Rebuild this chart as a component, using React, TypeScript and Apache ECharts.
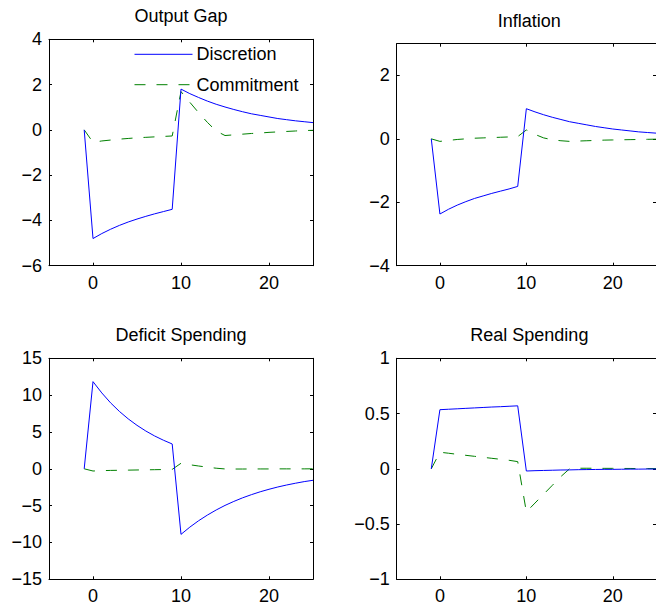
import React, { useEffect, useRef } from "react";
import * as echarts from "echarts";

const periods = [-1, 0, 1, 2, 3, 4, 5, 6, 7, 8, 9, 10, 11, 12, 13, 14, 15, 16, 17, 18, 19, 20, 21, 22, 23, 24, 25];

const panelTitles = ["Output Gap", "Inflation", "Deficit Spending", "Real Spending"];
const seriesNames = ["Discretion", "Commitment"];

const outputGapDiscretion = [0, -4.80, -4.58, -4.39, -4.22, -4.07, -3.94, -3.82, -3.71, -3.61, -3.51,
  1.80, 1.60, 1.43, 1.27, 1.13, 1.01, 0.90, 0.80, 0.71, 0.64, 0.57, 0.50, 0.45, 0.40, 0.36, 0.32];
const outputGapCommitment = [0, -0.55, -0.49, -0.45, -0.41, -0.38, -0.35, -0.33, -0.31, -0.29, -0.27,
  1.69, 1.22, 0.76, 0.33, -0.05, -0.25, -0.22, -0.19, -0.16, -0.14, -0.11, -0.09, -0.07, -0.05, -0.03, -0.02];

const inflationDiscretion = [0, -2.37, -2.22, -2.09, -1.98, -1.88, -1.80, -1.72, -1.65, -1.58, -1.50,
  0.95, 0.85, 0.76, 0.68, 0.61, 0.54, 0.49, 0.44, 0.39, 0.35, 0.31, 0.28, 0.25, 0.22, 0.20, 0.18];
const inflationCommitment = [0, -0.08, -0.05, -0.02, 0.0, 0.02, 0.03, 0.04, 0.05, 0.06, 0.07,
  0.28, 0.14, 0.03, -0.03, -0.06, -0.08, -0.07, -0.06, -0.05, -0.04, -0.035, -0.03, -0.025, -0.02, -0.015, -0.01];

const deficitDiscretion = [0, 11.83, 10.30, 8.95, 7.79, 6.78, 5.90, 5.13, 4.46, 3.88, 3.37,
  -8.90, -7.92, -7.05, -6.28, -5.59, -4.97, -4.43, -3.94, -3.51, -3.12, -2.78, -2.47, -2.20, -1.96, -1.74, -1.56];
const deficitCommitment = [0, -0.30, -0.25, -0.22, -0.20, -0.18, -0.16, -0.14, -0.12, -0.10, -0.08,
  0.75, 0.55, 0.38, 0.22, 0.08, -0.02, -0.03, -0.03, -0.02, -0.02, -0.02, -0.01, -0.01, -0.01, -0.01, 0.0];

const realDiscretion = [0, 0.535, 0.539, 0.543, 0.547, 0.551, 0.555, 0.559, 0.562, 0.566, 0.570,
  -0.020, -0.017, -0.015, -0.013, -0.011, -0.010, -0.008, -0.007, -0.006, -0.005, -0.005, -0.004, -0.003, -0.003, -0.002, -0.002];
const realCommitment = [0, 0.150, 0.141, 0.131, 0.122, 0.113, 0.104, 0.095, 0.086, 0.077, 0.065,
  -0.39, -0.31, -0.23, -0.15, -0.07, 0.0, 0.005, 0.005, 0.005, 0.004, 0.004, 0.003, 0.003, 0.002, 0.002, 0.002];

const xTicks = [0, 10, 20];
const yRanges = [
  { min: -6, max: 4, ticks: [-6, -4, -2, 0, 2, 4] },
  { min: -4, max: 3, ticks: [-4, -2, 0, 2] },
  { min: -15, max: 15, ticks: [-15, -10, -5, 0, 5, 10, 15] },
  { min: -1, max: 1, ticks: [-1, -0.5, 0, 0.5, 1] },
];

const panelData = [
  [outputGapDiscretion, outputGapCommitment],
  [inflationDiscretion, inflationCommitment],
  [deficitDiscretion, deficitCommitment],
  [realDiscretion, realCommitment],
];

const grids = [
  { left: 49, top: 39.3, width: 264, height: 226.4 },
  { left: 396.7, top: 43.7, width: 265.3, height: 222 },
  { left: 49, top: 358.3, width: 264, height: 221 },
  { left: 396.7, top: 358.3, width: 265.3, height: 221 },
];

const FONT = "'Liberation Sans', Arial, Helvetica, sans-serif";
const FS = 18;

const fmt = (v: number) => String(v).replace("-", "\u2212");

export default function App() {
  const ref = useRef<HTMLDivElement>(null);
  useEffect(() => {
    if (!ref.current) return;
    const chart = echarts.init(ref.current, undefined, { renderer: "svg" });
    const xAxis: any[] = [];
    const yAxis: any[] = [];
    const series: any[] = [];
    const graphic: any[] = [];
    grids.forEach((g, i) => {
      const base = { type: "value", gridIndex: i, min: -5, max: 25 };
      xAxis.push({
        ...base,
        position: "bottom",
        axisLine: { onZero: false, lineStyle: { color: "#000", width: 1 } },
        axisTick: { inside: true, length: 3, customValues: xTicks, lineStyle: { color: "#000" } },
        axisLabel: { customValues: xTicks, color: "#000", fontSize: FS, fontFamily: FONT, margin: 8, formatter: fmt },
        splitLine: { show: false },
      });
      xAxis.push({
        ...base,
        position: "top",
        axisLine: { onZero: false, lineStyle: { color: "#000", width: 1 } },
        axisTick: { inside: true, length: 3, customValues: xTicks, lineStyle: { color: "#000" } },
        axisLabel: { show: false },
        splitLine: { show: false },
      });
      const yr = yRanges[i];
      const yb = { type: "value", gridIndex: i, min: yr.min, max: yr.max };
      yAxis.push({
        ...yb,
        position: "left",
        axisLine: { show: true, onZero: false, lineStyle: { color: "#000", width: 1 } },
        axisTick: { show: true, inside: true, length: 3, customValues: yr.ticks, lineStyle: { color: "#000" } },
        axisLabel: { customValues: yr.ticks, color: "#000", fontSize: FS, fontFamily: FONT, margin: 7, formatter: fmt },
        splitLine: { show: false },
      });
      yAxis.push({
        ...yb,
        position: "right",
        axisLine: { show: true, onZero: false, lineStyle: { color: "#000", width: 1 } },
        axisTick: { show: true, inside: true, length: 3, customValues: yr.ticks, lineStyle: { color: "#000" } },
        axisLabel: { show: false },
        splitLine: { show: false },
      });
      const [disc, comm] = panelData[i];
      series.push({
        type: "line",
        name: seriesNames[0],
        xAxisIndex: i * 2,
        yAxisIndex: i * 2,
        data: periods.map((p, k) => [p, disc[k]]),
        symbol: "none",
        lineStyle: { color: "#0000ff", width: 1 },
        itemStyle: { color: "#0000ff" },
        z: 3,
      });
      series.push({
        type: "line",
        name: seriesNames[1],
        xAxisIndex: i * 2,
        yAxisIndex: i * 2,
        data: periods.map((p, k) => [p, comm[k]]),
        symbol: "none",
        lineStyle: { color: "#008000", width: 1, type: [11, 11] },
        itemStyle: { color: "#008000" },
        z: 2,
      });
      graphic.push({
        type: "text",
        x: g.left + g.width / 2,
        y: i < 2 ? (i === 0 ? 16 : 21) : 335,
        style: {
          text: panelTitles[i],
          fill: "#000",
          font: `${FS}px ${FONT}`,
          textAlign: "center",
          textVerticalAlign: "middle",
        },
      });
    });

    chart.setOption({
      animation: false,
      backgroundColor: "#fff",
      grid: grids.map((g) => ({ ...g, containLabel: false })),
      xAxis,
      yAxis,
      series,
      graphic,
      legend: {
        data: seriesNames,
        orient: "vertical",
        left: 134,
        top: 45.3,
        padding: 0,
        itemWidth: 58,
        itemHeight: 18,
        itemGap: 12.4,
        selectedMode: false,
        itemStyle: { opacity: 0 },
        lineStyle: { width: 1 },
        textStyle: { color: "#000", fontSize: FS, fontFamily: FONT, lineHeight: 18, padding: [0, 0, 0, -1] },
      },
    });
    return () => chart.dispose();
  }, []);
  return (
    <div
      ref={ref}
      style={{ position: "absolute", left: 0, top: 0, width: 656, height: 612, background: "#fff" }}
    />
  );
}
